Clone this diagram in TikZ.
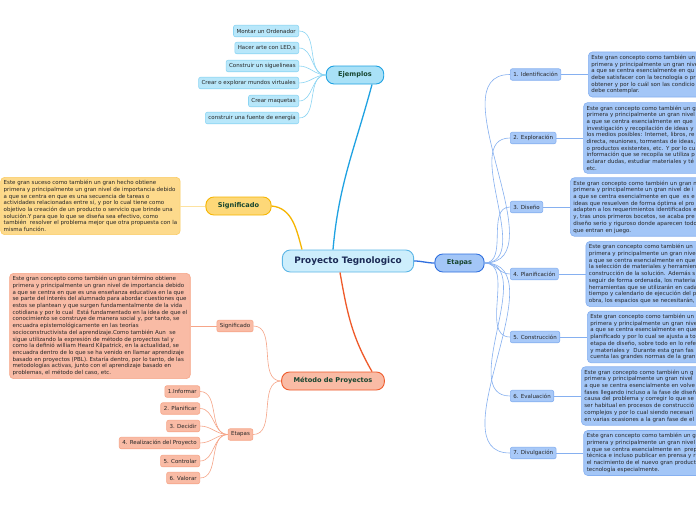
\documentclass[tikz,border=0pt]{standalone}
\usepackage{fontspec}
\setmainfont{DejaVu Sans}
\usetikzlibrary{positioning}
\definecolor{inktext}{HTML}{262626}
\definecolor{inktitle}{HTML}{16452F}
\definecolor{inknavy}{HTML}{1B2A55}
\definecolor{skyfill}{HTML}{CDEEFC}
\definecolor{skyline}{HTML}{5DB6E6}
\definecolor{ejfill}{HTML}{A9E1F7}
\definecolor{ejline}{HTML}{1FA2E2}
\definecolor{ejleaf}{HTML}{B8E7FA}
\definecolor{ejleafline}{HTML}{8CD5F3}
\definecolor{sigfill}{HTML}{FDD878}
\definecolor{sigline}{HTML}{F6B500}
\definecolor{sigbox}{HTML}{FDDA8C}
\definecolor{sigboxline}{HTML}{FBCB62}
\definecolor{sigtwig}{HTML}{FDE2A0}
\definecolor{metfill}{HTML}{F9BBA5}
\definecolor{metline}{HTML}{EF5A2A}
\definecolor{metleafline}{HTML}{F6A588}
\definecolor{etfill}{HTML}{A3C6F7}
\definecolor{etline}{HTML}{2F6FDF}
\definecolor{etleaf}{HTML}{A8C9F8}
\definecolor{etleafline}{HTML}{86B0F0}
\tikzset{
  topic/.style={rounded corners=8pt, line width=0.9pt, minimum height=18pt,
    inner xsep=12pt, font=\bfseries\fontsize{6.6}{8}\selectfont, text=inktitle},
  leaf/.style={rounded corners=2pt, line width=0.6pt, minimum height=11.5pt,
    inner xsep=3pt, inner ysep=1pt, font=\fontsize{5.5}{6.5}\selectfont, text=inktext},
  note/.style={rounded corners=4pt, line width=0.6pt, inner xsep=3pt, inner ysep=3pt,
    align=left, font=\fontsize{5.5}{6.7}\selectfont, text=inktext},
  twig/.style={line width=0.6pt},
  limb/.style={line width=1.3pt},
}
\begin{document}
\begin{tikzpicture}[x=1pt,y=-1pt]
  \clip (0,0) rectangle (696,520);
  \fill[white] (0,0) rectangle (696,520);
  % central topic
  \node[topic, fill=skyfill, draw=skyline, minimum height=22pt, text=inknavy,
    font=\bfseries\fontsize{8.9}{10}\selectfont] (root) at (348,261) {Proyecto Tegnologico};
  % main topics
  \node[topic, fill=ejfill, draw=ejline] (ej) at (355,75) {Ejemplos};
  \node[topic, fill=sigfill, draw=sigline] (sig) at (238.5,206) {Significado};
  \node[topic, fill=metfill, draw=metline] (met) at (333,381) {Método de Proyectos};
  \node[topic, fill=etfill, draw=etline] (et) at (459.5,263) {Etapas};
  \draw[limb, ejline] ([xshift=17pt]ej.south) to[out=-105,in=85] ([xshift=-15pt]root.north);
  \draw[limb, sigline] (sig.east) to[out=-5,in=105] ([xshift=-46pt]root.north);
  \draw[limb, metline] ([xshift=-8pt]root.south) to[out=-80,in=120] ([xshift=39pt]met.north);
  \draw[limb, etline] (root.east) to[out=0,in=180] (et.west);
  % ejemplos
  \foreach \txt/\yy [count=\i] in {Montar un Ordenador/31, {Hacer arte con LED,s}/48,
      Construir un siguelineas/66, Crear o explorar mundos virtuales/83,
      Crear maquetas/101, construir una fuente de energía/118}{
    \node[leaf, fill=ejleaf, draw=ejleafline, anchor=east] (ej\i) at (299,\yy) {\txt};
    \draw[twig, ejleafline] (ej\i.east) to[out=0,in=180] (ej.west);
  }
  % significado
  \node[note, fill=sigbox, draw=sigboxline, left=25pt of sig] (signote) {Este gran suceso como también un gran hecho obtiene\\
    primera y principalmente un gran nivel de importancia debido\\
    a que se centra en que es una secuencia de tareas o\\
    actividades relacionadas entre sí, y por lo cual tiene como\\
    objetivo la creación de un producto o servicio que brinde una\\
    solución.Y para que lo que se diseña sea efectivo, como\\
    también~ resolver el problema mejor que otra propuesta con la\\
    misma función.};
  \draw[twig, sigtwig, line width=1pt] (signote.east) -- (sig.west);
  % metodo de proyectos
  \node[leaf, fill=metfill, draw=metleafline] (metsig) at (235,326) {Significado};
  \node[leaf, fill=metfill, draw=metleafline] (metet) at (240.5,434.5) {Etapas};
  \draw[twig, metleafline] (met.west) to[out=180,in=0] (metsig.east);
  \draw[twig, metleafline] (met.west) to[out=180,in=0] (metet.east);
  \node[note, fill=metfill, draw=metleafline, left=26pt of metsig] (metnote) {Este gran concepto como también un gran término obtiene\\
    primera y principalmente un gran nivel de importancia debido\\
    a que se centra en que es una enseñanza educativa en la que\\
    se parte del interés del alumnado para abordar cuestiones que\\
    estos se plantean y que surgen fundamentalmente de la vida\\
    cotidiana y por lo cual~ Está fundamentado en la idea de que el\\
    conocimiento se construye de manera social y, por tanto, se\\
    encuadra epistemológicamente en las teorías\\
    socioconstructivista del aprendizaje.Como también Aun~ se\\
    sigue utilizando la expresión de método de proyectos tal y\\
    como la definió william Heard Kilpatrick, en la actualidad, se\\
    encuadra dentro de lo que se ha venido en llamar aprendizaje\\
    basado en proyectos (PBL). Estaría dentro, por lo tanto, de las\\
    metodologías activas, junto con el aprendizaje basado en\\
    problemas, el método del caso, etc.};
  \draw[twig, metleafline] (metnote.east) -- (metsig.west);
  \foreach \txt/\yy [count=\i] in {1.Informar/391.5, 2. Planificar/408.5, 3. Decidir/426,
      4. Realización del Proyecto/443, 5. Controlar/461, 6. Valorar/478}{
    \node[leaf, fill=metfill, draw=metleafline, anchor=east] (mp\i) at (200,\yy) {\txt};
    \draw[twig, metleafline] (mp\i.east) to[out=0,in=180] (metet.west);
  }
  % etapas
  \foreach \txt/\yy [count=\i] in {1. Identificación/74.5, 2. Exploración/138, 3. Diseño/207,
      4. Planificación/274, 5. Construcción/337, 6. Evaluación/396, 7. Divulgación/453}{
    \node[leaf, fill=etleaf, draw=etleafline, anchor=west] (st\i) at (510,\yy) {\txt};
    \draw[twig, etleafline] (et.east) to[out=0,in=180] (st\i.west);
  }
  \tikzset{stepnote/.style={note, fill=etfill, draw=etleafline, text width=140pt, right=27pt of #1}}
  \node[stepnote=st1] (sn1) {Este gran concepto como también un g\\
    primera y principalmente un gran nive\\
    a que se centra esencialmente en qu\\
    debe satisfacer con la tecnología o pr\\
    obtener y por lo cuál son las condicio\\
    debe contemplar.};
  \node[stepnote=st2] (sn2) {Este gran concepto como también un g\\
    primera y principalmente un gran nivel\\
    a que se centra esencialmente en que\\
    investigación y recopilación de ideas y\\
    los medios posibles: Internet, libros, re\\
    directa, reuniones, tormentas de ideas,\\
    o productos existentes, etc. Y por lo cu\\
    información que se recopila se utiliza p\\
    aclarar dudas, estudiar materiales y té\\
    etc.};
  \node[stepnote=st3] (sn3) {Este gran concepto como también un gran n\\
    primera y principalmente un gran nivel de i\\
    a que se centra esencialmente en que~ es e\\
    ideas que resuelven de forma óptima el pro\\
    adapten a los requerimientos identificados e\\
    y, tras unos primeros bocetos, se acaba pre\\
    diseño serio y riguroso donde aparecen todo\\
    que entran en juego.};
  \node[stepnote=st4] (sn4) {Este gran concepto como también un\\
    primera y principalmente un gran nive\\
    a que se centra esencialmente en que\\
    la selección de materiales y herramien\\
    construcción de la solución. Además s\\
    seguir de forma ordenada, los materia\\
    herramientas que se utilizarán en cada\\
    tiempo y calendario de ejecución del p\\
    obra, los espacios que se necesitarán,};
  \node[stepnote=st5] (sn5) {Este gran concepto como también un\\
    primera y principalmente un gran nive\\
    a que se centra esencialmente en que\\
    planificado y por lo cual se ajusta a to\\
    etapa de diseño, sobre todo en lo refe\\
    y materiales y~ Durante esta gran fas\\
    cuenta las grandes normas de la gran};
  \node[stepnote=st6] (sn6) {Este gran concepto como también un g\\
    primera y principalmente un gran nivel\\
    a que se centra esencialmente en volve\\
    fases llegando incluso a la fase de diseñ\\
    causa del problema y corregir lo que se\\
    ser habitual en procesos de construcció\\
    complejos y por lo cual siendo necesari\\
    en varias ocasiones a la gran fase de el};
  \node[stepnote=st7] (sn7) {Este gran concepto como también un g\\
    primera y principalmente un gran nivel\\
    a que se centra esencialmente en~ prep\\
    técnica e incluso publicar en prensa y r\\
    el nacimiento de el nuevo gran product\\
    tecnología especialmente.};
  \foreach \i in {1,...,7}{
    \draw[twig, etleafline, line width=1pt] (st\i.east) -- (sn\i.west);
  }
\end{tikzpicture}
\end{document}
